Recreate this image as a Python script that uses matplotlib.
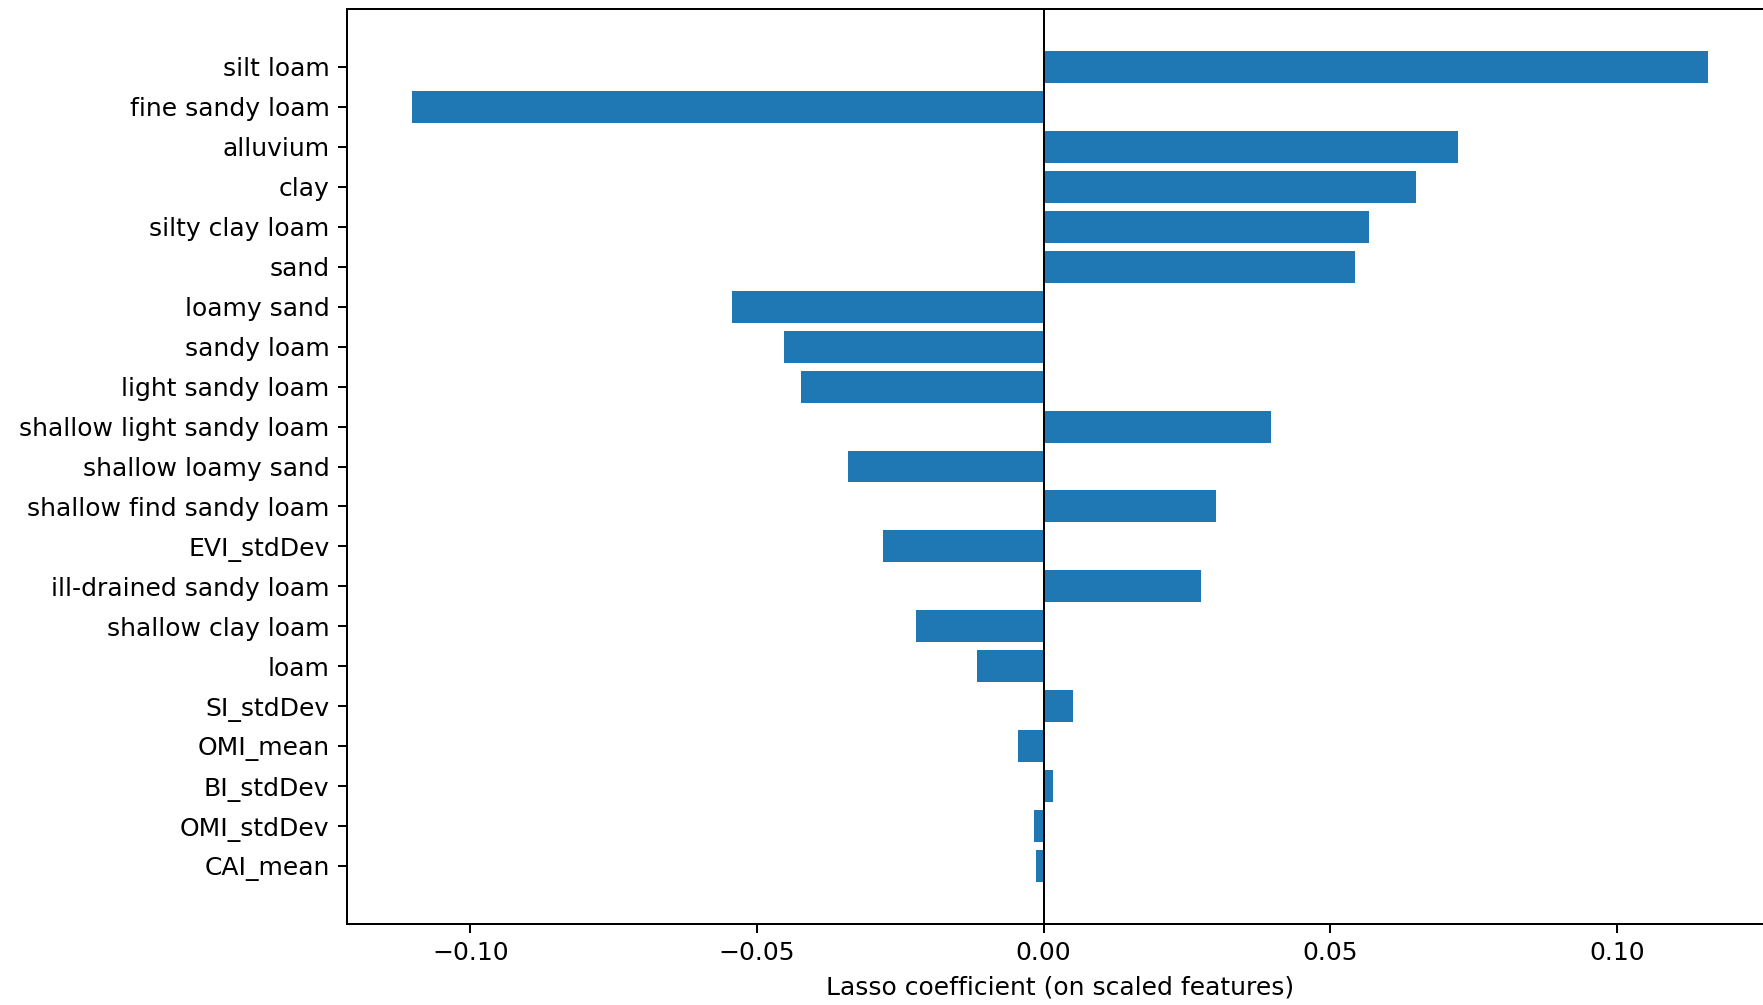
import numpy as np
import matplotlib
matplotlib.use("Agg")
import matplotlib.pyplot as plt

features = [
    "silt loam", "fine sandy loam", "alluvium", "clay", "silty clay loam",
    "sand", "loamy sand", "sandy loam", "light sandy loam",
    "shallow light sandy loam", "shallow loamy sand", "shallow find sandy loam",
    "EVI_stdDev", "ill-drained sandy loam", "shallow clay loam", "loam",
    "SI_stdDev", "OMI_mean", "BI_stdDev", "OMI_stdDev", "CAI_mean",
]
coefs = [
    0.1159, -0.1102, 0.0722, 0.0649, 0.0567,
    0.0543, -0.0543, -0.0453, -0.0424,
    0.0396, -0.0341, 0.0300,
    -0.0280, 0.0275, -0.0222, -0.0116,
    0.0051, -0.0045, 0.0016, -0.0016, -0.0014,
]
xlabel = "Lasso coefficient (on scaled features)"

dpi = 180
fig = plt.figure(figsize=(1763 / dpi, 1005 / dpi), dpi=dpi)
ax = fig.add_axes([347 / 1763, 81 / 1005, (1773 - 347) / 1763, (924 - 9) / 1005])

y = np.arange(len(features))
ax.barh(y, coefs, height=0.8, color="#1f77b4")
ax.set_yticks(y)
ax.set_yticklabels(features, fontsize=10)
ax.invert_yaxis()
ax.axvline(0, color="black", linewidth=0.8)
ax.set_xlabel(xlabel, fontsize=10)
ax.tick_params(axis="x", labelsize=10)

fig.savefig("out.png", dpi=dpi)
